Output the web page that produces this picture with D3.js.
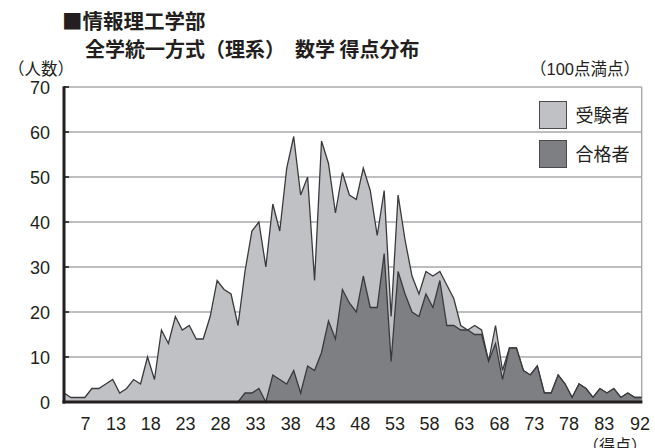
<!DOCTYPE html>
<html>
<head>
<meta charset="utf-8">
<script src="https://cdn.jsdelivr.net/npm/d3@7"></script>
<style>
    body { margin: 0; background: #fff; }
    svg text { font-family: "Liberation Sans", "Noto Sans CJK JP", sans-serif; fill: #231f20; }
    .jp { font-family: "Noto Sans CJK JP", sans-serif; }
</style>
</head>
<body>
<div id="grafico"></div>
<script>
// categorías: puntuación (una por punto)
const puntos = d3.range(5, 89);

// 受験者
const jukensha = [2, 1, 1, 1, 3, 3, 4, 5, 2, 3, 5, 4, 10, 5, 16, 13, 19, 16, 17, 14,
    14, 19, 27, 25, 24, 17, 29, 38, 40, 30, 44, 38, 52, 59, 46, 50, 27, 58, 53, 42,
    51, 46, 45, 52, 47, 37, 47, 19, 46, 36, 28, 24, 29, 28, 29, 26, 23, 17, 16, 17,
    16, 9, 17, 7, 12, 12, 7, 6, 8, 2, 2, 6, 4, 1, 4, 3, 1, 3, 2, 3,
    1, 2, 1, 1];

// 合格者
const goukakusha = [0, 0, 0, 0, 0, 0, 0, 0, 0, 0, 0, 0, 0, 0, 0, 0, 0, 0, 0, 0,
    0, 0, 0, 0, 0, 0, 2, 2, 3, 0, 6, 5, 4, 7, 2, 8, 7, 11, 18, 14,
    25, 22, 20, 28, 21, 21, 33, 9, 29, 24, 20, 19, 24, 21, 27, 17, 17, 16, 16, 15,
    15, 9, 13, 5, 12, 12, 7, 6, 8, 2, 2, 6, 4, 1, 4, 3, 1, 3, 2, 3,
    1, 2, 1, 1];

const yTicks = [0, 10, 20, 30, 40, 50, 60, 70];
const xEtiquetas = ["7", "13", "18", "23", "28", "33", "38", "43", "48", "53", "58", "63", "68", "73", "78", "83", "92"];
const xPosiciones = [8, 12.4, 17.4, 22.4, 27.4, 32.45, 37.5, 42.5, 47.5, 52.5, 57.45, 62.45, 67.5, 72.5, 77.5, 82.55, 87.7];
const series = ["受験者", "合格者"];

const ancho = 655, alto = 448;
const izq = 64, der = 641.7, arriba = 87, abajo = 402;

const svg = d3.select("#grafico").append("svg")
    .attr("width", ancho)
    .attr("height", alto);

const x = d3.scaleLinear().domain([d3.min(puntos), d3.max(puntos)]).range([izq, der]);
const y = d3.scaleLinear().domain([0, 70]).range([abajo, arriba]);
const colores = d3.scaleOrdinal().domain(series).range(["#c0c1c4", "#7e7f82"]);

// rejilla
svg.append("g")
    .selectAll("line")
    .data(yTicks.filter(d => d > 0))
    .enter().append("line")
    .attr("x1", izq).attr("x2", der)
    .attr("y1", d => y(d)).attr("y2", d => y(d))
    .attr("stroke", "#a9a9ab")
    .attr("stroke-width", 1.4);

svg.append("line")
    .attr("x1", der).attr("x2", der)
    .attr("y1", y(70)).attr("y2", abajo)
    .attr("stroke", "#a9a9ab")
    .attr("stroke-width", 1.4);

// áreas
const area = d3.area()
    .x((d, i) => x(puntos[i]))
    .y0(y(0))
    .y1(d => y(d));
const linea = d3.line()
    .x((d, i) => x(puntos[i]))
    .y(d => y(d));

[jukensha, goukakusha].forEach(function (datos, k) {
    svg.append("path")
        .datum(datos)
        .attr("d", area)
        .attr("fill", colores(series[k]));
    svg.append("path")
        .datum(datos)
        .attr("d", linea)
        .attr("fill", "none")
        .attr("stroke", "#3a3a3c")
        .attr("stroke-width", 1.3)
        .attr("stroke-linejoin", "miter");
});

// marcas internas del eje y
svg.append("g")
    .selectAll("line")
    .data(yTicks)
    .enter().append("line")
    .attr("x1", izq).attr("x2", izq + 5)
    .attr("y1", d => y(d)).attr("y2", d => y(d))
    .attr("stroke", "#231f20")
    .attr("stroke-width", 1.6);

// ejes
const ejeY = svg.append("g")
    .attr("transform", "translate(" + izq + ",0)")
    .call(d3.axisLeft(y).tickValues(yTicks).tickSize(0).tickPadding(14));
ejeY.select(".domain").remove();
ejeY.selectAll("text")
    .style("font-size", "18px")
    .attr("dy", "0.36em");

const ejeX = svg.append("g")
    .attr("transform", "translate(0," + abajo + ")")
    .call(d3.axisBottom(x).tickValues(xPosiciones).tickSize(0).tickPadding(15)
        .tickFormat((d, i) => xEtiquetas[i]));
ejeX.select(".domain").remove();
ejeX.selectAll("text").style("font-size", "18px");

svg.append("line")
    .attr("x1", izq).attr("x2", izq)
    .attr("y1", y(70) - 0.7).attr("y2", abajo + 1.5)
    .attr("stroke", "#231f20").attr("stroke-width", 3);
svg.append("line")
    .attr("x1", izq - 1.5).attr("x2", der + 0.7)
    .attr("y1", abajo).attr("y2", abajo)
    .attr("stroke", "#231f20").attr("stroke-width", 3);

// leyenda
const leyenda = svg.append("g")
    .selectAll("g")
    .data(series)
    .enter().append("g")
    .attr("transform", (d, i) => "translate(539.5," + (101.5 + i * 39) + ")");
leyenda.append("rect")
    .attr("width", 27).attr("height", 27)
    .attr("fill", d => colores(d))
    .attr("stroke", "#4a4a4c").attr("stroke-width", 1);
leyenda.append("text")
    .attr("class", "jp")
    .attr("x", 36).attr("y", 14)
    .attr("dy", "0.36em")
    .style("font-size", "18px")
    .text(d => d);

// títulos
svg.append("text").attr("class", "jp")
    .attr("x", 62).attr("y", 28.5)
    .style("font-size", "20.5px").style("font-weight", "bold")
    .text("■情報理工学部");
svg.append("text").attr("class", "jp")
    .attr("x", 85).attr("y", 56.5)
    .style("font-size", "20px").style("font-weight", "bold")
    .text("全学統一方式（理系）\u3000数学 得点分布");
svg.append("text").attr("class", "jp")
    .attr("x", 8).attr("y", 75)
    .style("font-size", "16.5px")
    .text("（人数）");
svg.append("text")
    .attr("x", 640).attr("y", 75)
    .attr("text-anchor", "end")
    .style("font-size", "16.5px")
    .text("（100点満点）");
svg.append("text").attr("class", "jp")
    .attr("x", 647).attr("y", 451)
    .attr("text-anchor", "end")
    .style("font-size", "16px")
    .text("（得点）");
</script>
</body>
</html>
